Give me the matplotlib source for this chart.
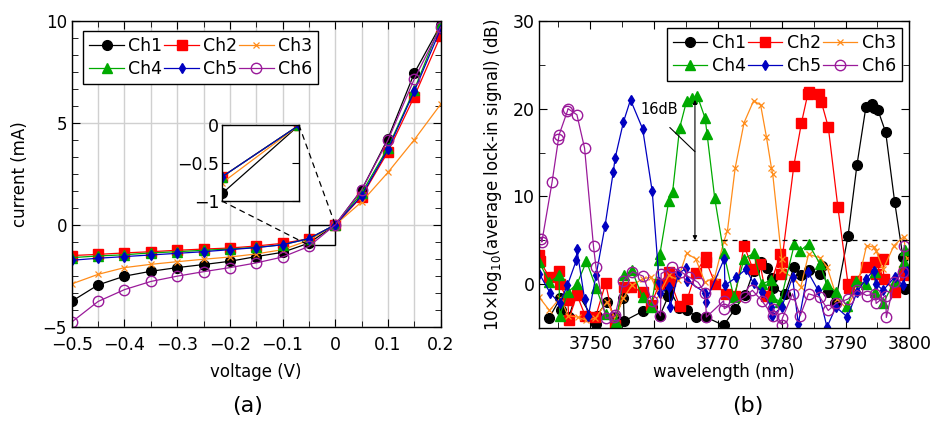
import numpy as np
import matplotlib
matplotlib.use('Agg')
import matplotlib.pyplot as plt
from matplotlib.ticker import MultipleLocator, FuncFormatter
from matplotlib.patches import Rectangle, ConnectionPatch

# ---- (a) I-V curves ----
voltage = [-0.5, -0.45, -0.4, -0.35, -0.3, -0.25, -0.2, -0.15, -0.1, -0.05, 0.0, 0.05, 0.1, 0.15, 0.2]
iv_ch1 = [-3.75, -2.95, -2.52, -2.28, -2.10, -1.95, -1.79, -1.56, -1.35, -0.90, 0.0, 1.71, 4.23, 7.44, 9.80]
iv_ch2 = [-1.51, -1.45, -1.38, -1.32, -1.25, -1.19, -1.14, -1.04, -0.91, -0.68, 0.0, 1.38, 3.58, 6.29, 9.27]
iv_ch3 = [-2.90, -2.43, -2.10, -1.94, -1.81, -1.69, -1.58, -1.43, -1.22, -0.76, 0.0, 1.12, 2.57, 4.17, 5.91]
iv_ch4 = [-1.61, -1.53, -1.47, -1.38, -1.32, -1.25, -1.19, -1.11, -0.98, -0.68, 0.0, 1.55, 3.78, 6.63, 9.85]
iv_ch5 = [-1.74, -1.64, -1.56, -1.48, -1.40, -1.32, -1.22, -1.12, -0.98, -0.68, 0.0, 1.42, 3.70, 6.55, 9.61]
iv_ch6 = [-4.77, -3.76, -3.18, -2.78, -2.52, -2.30, -2.10, -1.87, -1.58, -1.06, 0.0, 1.71, 4.15, 7.15, 9.69]

# ---- (b) spectra ----
wl_ch1 = [3743.5, 3745.3, 3745.4, 3746.6, 3747.9, 3750.9, 3751.0, 3752.6, 3753.9, 3755.2, 3755.3,
          3758.2, 3759.6, 3760.9, 3762.2, 3762.4, 3763.9, 3765.2, 3766.5, 3768.1, 3770.9, 3772.7,
          3774.3, 3775.6, 3776.7, 3777.7, 3778.5, 3778.6, 3780.5, 3781.9, 3783.0, 3784.3, 3786.0,
          3786.3, 3787.3, 3788.4, 3790.4, 3791.8, 3793.2, 3794.2, 3794.5, 3795.1, 3796.3, 3797.7,
          3799.0, 3799.3]
db_ch1 = [-3.9, -1.6, -3.0, -3.8, -0.9, -4.5, -3.6, -2.0, -3.75, -1.55, -4.2,
          -3.1, -2.6, -3.6, -1.4, -0.5, -2.7, -2.9, -3.7, -3.75, -4.7, -2.8,
          -1.2, 1.5, 2.5, 1.8, 0.7, -0.4, -1.1, 1.9, 1.0, 1.6, 1.2,
          2.1, -0.9, -2.1, 5.5, 13.6, 20.2, 20.5, 20.1, 19.8, 17.3, 9.4,
          3.1, -0.6]

wl_ch2 = [3742.0, 3742.1, 3743.6, 3745.1, 3745.2, 3746.5, 3746.6, 3747.9, 3749.2, 3750.8, 3752.4,
          3753.8, 3755.3, 3756.4, 3758.2, 3759.5, 3760.8, 3762.3, 3762.5, 3764.0, 3765.2, 3766.5,
          3768.1, 3768.2, 3769.6, 3771.2, 3772.7, 3774.1, 3775.5, 3776.6, 3777.6, 3779.8, 3779.9,
          3780.0, 3781.9, 3783.1, 3784.1, 3784.3, 3785.9, 3786.2, 3787.3, 3788.8, 3790.4, 3790.5,
          3791.6, 3793.2, 3794.6, 3794.8, 3795.9, 3796.0, 3797.8, 3799.2, 3799.4]
db_ch2 = [3.3, 2.6, 0.8, 1.55, 0.0, -1.85, -4.1, -1.2, -3.6, -3.8, 0.1,
          -4.7, -0.35, -0.35, -0.9, -2.4, 0.0, 1.4, 0.4, -2.5, -1.7, 1.25,
          3.1, 2.5, 0.0, -1.1, -1.3, 4.4, 1.7, 2.3, -1.4, 3.4, 1.2,
          2.5, 13.5, 18.4, 21.7, 21.9, 21.7, 20.8, 17.9, 8.8, 0.0, -0.4,
          0.4, 2.0, 2.5, 1.2, 2.9, 0.6, -0.9, 1.55, 1.0]

wl_ch3 = [3742.0, 3743.6, 3745.3, 3746.5, 3748.0, 3749.3, 3750.8, 3752.6, 3753.9, 3755.2, 3756.5,
          3758.2, 3759.5, 3760.8, 3762.3, 3763.7, 3765.1, 3766.5, 3768.0, 3769.5, 3770.9, 3771.5,
          3772.7, 3774.1, 3775.6, 3776.7, 3777.6, 3778.4, 3778.6, 3780.0, 3780.1, 3781.9, 3783.0,
          3784.2, 3786.0, 3787.1, 3788.7, 3790.2, 3791.8, 3793.3, 3794.5, 3794.8, 3795.9, 3797.6,
          3799.1, 3799.6]
db_ch3 = [-1.5, -3.0, -1.55, -3.6, -3.75, -4.1, -3.9, -2.0, -3.9, -1.55, -0.15,
          0.6, 0.8, -1.2, 1.0, 0.5, 3.5, 2.9, 0.2, 0.8, 4.8, 6.1,
          13.2, 18.4, 20.9, 20.4, 16.8, 13.2, 12.5, 2.9, 1.6, 0.6, -0.3,
          3.4, 3.0, 2.0, -1.7, -2.8, -0.4, 4.4, 4.2, 3.8, 1.7, 4.4,
          5.4, 3.0]

wl_ch4 = [3742.0, 3743.6, 3745.1, 3745.2, 3746.5, 3747.9, 3749.4, 3750.9, 3752.4, 3754.0, 3755.3,
          3756.5, 3758.2, 3759.5, 3760.8, 3760.9, 3762.3, 3762.9, 3764.0, 3765.1, 3766.0, 3766.8,
          3768.0, 3768.3, 3769.5, 3770.9, 3772.5, 3774.1, 3775.6, 3776.9, 3778.4, 3778.5, 3779.8,
          3782.0, 3782.9, 3784.2, 3786.0, 3787.1, 3788.5, 3790.3, 3791.6, 3793.2, 3794.6, 3794.7,
          3795.9, 3797.7, 3799.2, 3799.4]
db_ch4 = [2.5, 0.2, 1.0, -3.6, -0.9, 0.0, 2.6, -0.4, -3.4, -4.3, 1.0,
          1.6, -1.5, -2.6, 2.7, 3.4, 9.5, 10.5, 17.8, 20.9, 21.2, 21.4,
          18.9, 17.1, 9.8, 3.6, -1.5, 2.9, 3.5, 0.0, 0.5, -1.5, -2.0,
          4.6, 3.8, 4.6, 2.3, 0.0, -0.9, -2.5, 0.4, 0.0, 1.4, -0.9,
          -2.2, 0.4, 2.5, 3.9]

wl_ch5 = [3742.0, 3743.7, 3745.2, 3746.4, 3747.8, 3747.9, 3749.1, 3749.7, 3750.9, 3752.3, 3753.6,
          3753.9, 3755.2, 3756.3, 3758.2, 3759.7, 3760.8, 3761.0, 3762.3, 3762.5, 3763.8, 3765.0,
          3765.2, 3768.0, 3768.1, 3771.0, 3771.1, 3772.9, 3774.4, 3775.6, 3776.9, 3778.4, 3778.5,
          3780.0, 3781.7, 3782.6, 3784.1, 3785.7, 3787.1, 3788.5, 3790.3, 3791.8, 3793.2, 3794.4,
          3794.8, 3795.9, 3797.7, 3799.0, 3799.6]
db_ch5 = [1.2, -1.0, -2.2, -0.15, 2.7, 4.0, -1.7, -3.6, 1.0, 6.6, 12.8,
          14.4, 18.5, 21.0, 17.7, 10.6, 0.2, -1.0, -0.35, -2.6, 1.2, 1.8,
          0.4, -1.0, -2.0, 2.9, -0.15, 0.8, 1.7, 0.1, -0.9, -2.6, -3.6,
          -2.6, 0.8, -4.5, 1.4, -0.7, -4.9, -2.6, -3.75, -0.9, 0.6, 1.55,
          0.0, -0.7, 0.8, -0.15, 1.55]

wl_ch6 = [3742.3, 3742.4, 3744.0, 3745.0, 3745.1, 3746.4, 3746.5, 3747.9, 3749.1, 3750.5, 3750.9,
          3752.4, 3753.7, 3753.9, 3755.2, 3756.6, 3758.3, 3759.6, 3761.0, 3761.1, 3762.8, 3764.2,
          3765.5, 3766.9, 3768.0, 3768.2, 3770.9, 3771.0, 3774.2, 3775.4, 3776.9, 3778.6, 3778.7,
          3780.0, 3780.1, 3781.7, 3782.9, 3784.2, 3786.0, 3787.3, 3788.5, 3790.4, 3791.8, 3793.3,
          3794.7, 3794.8, 3796.3, 3796.4, 3797.6, 3799.0, 3799.2]
db_ch6 = [5.2, 4.8, 11.6, 16.5, 17.0, 19.7, 20.0, 19.3, 15.5, 4.3, 1.9,
          -3.9, -3.7, -3.5, 0.4, 1.4, 0.9, -1.9, -3.6, 1.2, 1.9, 1.4,
          0.8, 0.2, -1.0, -3.75, -1.9, -2.8, -1.5, -0.7, -1.9, -3.6, -2.8,
          -4.6, -3.9, -1.1, -3.6, -1.1, -1.5, -3.0, -2.2, -1.7, -0.7, -1.3,
          -1.1, -2.2, -1.3, -3.8, 0.2, 1.4, 4.4]

names = ['Ch1', 'Ch2', 'Ch3', 'Ch4', 'Ch5', 'Ch6']
colors = ['black', '#ff0000', '#ff8c1a', '#00aa00', '#0000c0', '#9a1a9a']
markers = ['o', 's', 'x', '^', 'd', 'o']
msizes = [7, 7, 5, 6.5, 5.5, 7.5]

plt.rcParams['font.family'] = 'DejaVu Sans'
plt.rcParams['axes.unicode_minus'] = True


def fmt(v, pos=None):
    v = round(v, 6)
    if v == 0:
        return '0'
    return ('%g' % v).replace('-', '\u2212')


def draw(ax, x, ys, which=range(6)):
    hs = []
    for i in which:
        face = 'none' if i == 5 else colors[i]
        h, = ax.plot(x[i], ys[i], color=colors[i], marker=markers[i], ms=msizes[i],
                     mfc=face, mec=colors[i], lw=0.9, mew=1.0 if i != 2 else 0.9,
                     label=names[i], clip_on=True)
        hs.append(h)
    return hs


def style(ax, xpad=5):
    ax.tick_params(which='both', direction='in', top=True, right=True, labelsize=12.5)
    ax.tick_params(axis='x', which='major', pad=xpad)
    ax.tick_params(which='major', length=6)
    ax.tick_params(which='minor', length=4)
    for s in ax.spines.values():
        s.set_linewidth(1.0)


def legend(ax, hs, anchor, loc):
    order = [0, 3, 1, 4, 2, 5]
    leg = ax.legend([hs[k] for k in order], [names[k] for k in order], ncol=3, loc=loc,
                    bbox_to_anchor=anchor, fontsize=12.5, handlelength=2.0, handletextpad=0.25,
                    columnspacing=0.1, labelspacing=0.25, borderpad=0.35, fancybox=False,
                    framealpha=1, edgecolor='black', borderaxespad=0)
    leg.get_frame().set_linewidth(1.0)


fig = plt.figure(figsize=(9.33, 4.26), dpi=100)

# left panel
ax1 = fig.add_axes([0.0769, 0.233, 0.3954, 0.718])
iv_all = [iv_ch1, iv_ch2, iv_ch3, iv_ch4, iv_ch5, iv_ch6]
hs = draw(ax1, [voltage] * 6, iv_all)
ax1.set_xlim(-0.5, 0.2)
ax1.set_ylim(-5, 10)
ax1.xaxis.set_major_locator(MultipleLocator(0.1))
ax1.xaxis.set_minor_locator(MultipleLocator(0.05))
ax1.yaxis.set_major_locator(MultipleLocator(5))
ax1.yaxis.set_minor_locator(MultipleLocator(5 / 6))
ax1.xaxis.set_major_formatter(FuncFormatter(fmt))
ax1.yaxis.set_major_formatter(FuncFormatter(fmt))
ax1.grid(True, which='both', axis='x', color='#d0d0d0', lw=1.0)
ax1.grid(True, which='major', axis='y', color='#d0d0d0', lw=1.0)
ax1.set_axisbelow(True)
style(ax1, xpad=7)
ax1.tick_params(axis='y', labelsize=12)
ax1.set_xlabel('voltage (V)', fontsize=12, labelpad=6)
ax1.set_ylabel('current (mA)', fontsize=12, labelpad=10)
legend(ax1, hs, (0.031, 0.966), 'upper left')
ax1.add_patch(Rectangle((-0.05, -1), 0.05, 1, fill=False, ec='black', lw=1.0, zorder=1))

# inset (Ch1-Ch5 only)
axi = fig.add_axes([0.238, 0.528, 0.0825, 0.178])
draw(axi, [voltage] * 6, iv_all, which=range(5))
axi.set_xlim(-0.05, 0)
axi.set_ylim(-1, 0)
axi.set_xticks([])
axi.yaxis.set_major_locator(MultipleLocator(0.5))
axi.yaxis.set_major_formatter(FuncFormatter(fmt))
axi.tick_params(axis='y', direction='in', right=True, labelsize=12.5, length=5, pad=2)
for s in axi.spines.values():
    s.set_linewidth(1.0)
for xa, ya, xb, yb in [(0, 0, 0, 0), (-0.05, -1, -0.05, -1)]:
    con = ConnectionPatch(xyA=(xa, ya), coordsA=axi.transData, xyB=(xb, yb), coordsB=ax1.transData,
                          ls=(0, (4, 4)), lw=0.9, color='black')
    fig.add_artist(con)

# right panel
ax2 = fig.add_axes([0.578, 0.23, 0.3966, 0.721])
hs2 = draw(ax2, [wl_ch1, wl_ch2, wl_ch3, wl_ch4, wl_ch5, wl_ch6],
           [db_ch1, db_ch2, db_ch3, db_ch4, db_ch5, db_ch6])
ax2.set_xlim(3742, 3800)
ax2.set_ylim(-5, 30)
ax2.xaxis.set_major_locator(MultipleLocator(10))
ax2.xaxis.set_minor_locator(MultipleLocator(5))
ax2.yaxis.set_major_locator(MultipleLocator(10))
ax2.yaxis.set_minor_locator(MultipleLocator(5))
ax2.xaxis.set_major_formatter(FuncFormatter(lambda v, p: '' if v < 3745 else '%d' % v))
ax2.yaxis.set_major_formatter(FuncFormatter(fmt))
style(ax2)
ax2.set_xlabel('wavelength (nm)', fontsize=12, labelpad=7)
ax2.set_ylabel(r'10$\times$log$_{10}$(average lock-in signal) (dB)', fontsize=12, labelpad=6)
legend(ax2, hs2, (0.98, 0.976), 'upper right')

ax2.plot([3762.8, 3800], [5, 5], color='black', ls=(0, (4, 4)), lw=0.9)
ax2.annotate('', xy=(3766.4, 21), xytext=(3766.4, 5),
             arrowprops=dict(arrowstyle='<|-|>', color='black', lw=0.8,
                             mutation_scale=6, shrinkA=0, shrinkB=0))
ax2.annotate('16dB', xy=(3766.4, 15.1), xytext=(3757.8, 19.9), fontsize=10.5,
             va='center', ha='left',
             arrowprops=dict(arrowstyle='-', color='black', lw=0.8, shrinkA=8, shrinkB=0,
                             relpos=(0.5, 0)))

fig.text(0.265, 0.033, '(a)', fontsize=16, ha='center')
fig.text(0.801, 0.033, '(b)', fontsize=16, ha='center')

fig.savefig('out.png', dpi=100)
